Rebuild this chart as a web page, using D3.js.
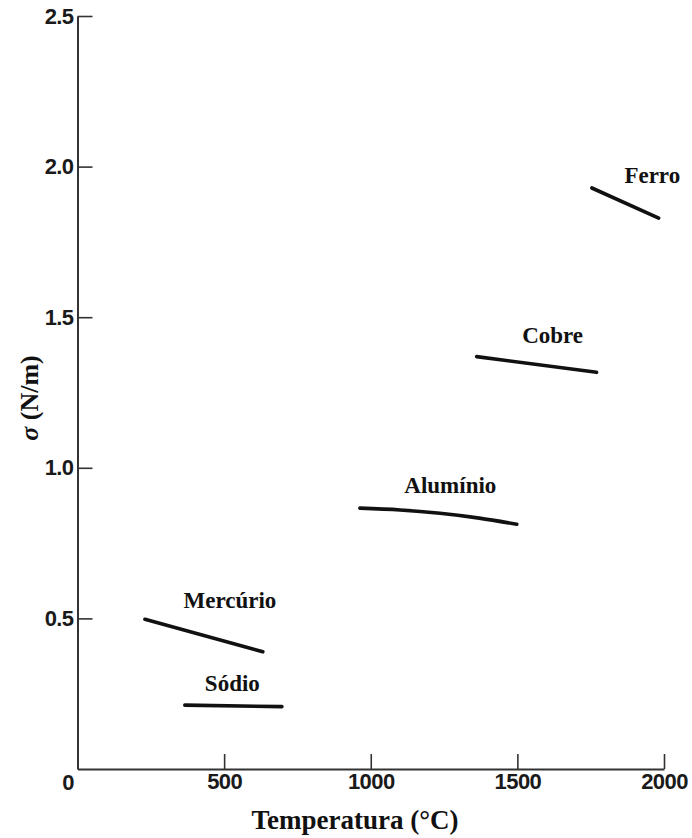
<!DOCTYPE html>
<html>
<head>
<meta charset="utf-8">
<script src="https://cdn.jsdelivr.net/npm/d3@7"></script>
<style>
  html, body { margin: 0; padding: 0; background: #fff; }
  svg { display: block; }
</style>
</head>
<body>
<svg id="chart" width="692" height="838"></svg>
<script>
// Surface tension of liquid metals versus temperature
const metals = ["Mercúrio", "Sódio", "Alumínio", "Cobre", "Ferro"];
const temperatures = [
  [230, 632],
  [366, 697],
  [963, 1100, 1236, 1370, 1498],
  [1361, 1770],
  [1754, 1982]
];
const sigmas = [
  [0.497, 0.389],
  [0.212, 0.207],
  [0.866, 0.860, 0.849, 0.833, 0.8125],
  [1.369, 1.317],
  [1.929, 1.829]
];
const xTicks = [500, 1000, 1500, 2000];
const yTicks = [0.5, 1.0, 1.5, 2.0, 2.5];

const svg = d3.select("#chart");

const x = d3.scaleLinear().domain([0, 2000]).range([77.5, 664]);
const y = d3.scaleLinear().domain([0, 2.5]).range([769, 16]);

const axisColor = "#333";
const tickFont = "'Liberation Sans', Arial, sans-serif";

// x axis, ticks pointing up into the plot
const gx = svg.append("g")
  .attr("transform", `translate(0,${y(0)})`)
  .call(d3.axisBottom(x).tickValues(xTicks).tickFormat(d3.format("d"))
    .tickSize(-15).tickSizeOuter(0).tickPadding(4));

// y axis, ticks pointing right into the plot
const gy = svg.append("g")
  .attr("transform", `translate(${x(0)},0)`)
  .call(d3.axisLeft(y).tickValues(yTicks).tickFormat(d3.format(".1f"))
    .tickSize(-15).tickSizeOuter(0).tickPadding(4));

[gx, gy].forEach(g => {
  g.select(".domain").attr("stroke", axisColor).attr("stroke-width", 2);
  g.selectAll(".tick line").attr("stroke", axisColor).attr("stroke-width", 1.6);
  g.selectAll(".tick text")
    .attr("fill", "#1a1a1a")
    .style("font-family", tickFont)
    .style("font-weight", "bold")
    .style("font-size", "22px")
    .style("letter-spacing", "-0.6px");
});

// origin label
svg.append("text")
  .attr("x", x(0) - 3)
  .attr("y", y(0) + 21)
  .attr("text-anchor", "end")
  .attr("fill", "#1a1a1a")
  .style("font-family", tickFont)
  .style("font-weight", "bold")
  .style("font-size", "22px")
  .text("0");

// one line per metal
const line = d3.line()
  .x(d => x(d[0]))
  .y(d => y(d[1]))
  .curve(d3.curveMonotoneX);

const series = metals.map((name, i) => ({
  name,
  points: temperatures[i].map((t, j) => [t, sigmas[i][j]])
}));

svg.append("g")
  .selectAll("path")
  .data(series)
  .join("path")
  .attr("d", d => line(d.points))
  .attr("fill", "none")
  .attr("stroke", "#111")
  .attr("stroke-width", 3.6)
  .attr("stroke-linecap", "round");

// series labels, offset from the middle of each line
const labelOffsets = {
  "Mercúrio": [26, -28],
  "Sódio": [-1, -15],
  "Alumínio": [12, -23],
  "Cobre": [16, -21],
  "Ferro": [27, -20]
};

svg.append("g")
  .selectAll("text")
  .data(series)
  .join("text")
  .attr("x", d => {
    const p = d.points;
    return (x(p[0][0]) + x(p[p.length - 1][0])) / 2 + labelOffsets[d.name][0];
  })
  .attr("y", d => {
    const p = d.points;
    return (y(p[0][1]) + y(p[p.length - 1][1])) / 2 + labelOffsets[d.name][1];
  })
  .attr("text-anchor", "middle")
  .attr("fill", "#111")
  .style("font-family", "'Liberation Serif', 'Times New Roman', serif")
  .style("font-weight", "bold")
  .style("font-size", "23px")
  .text(d => d.name);

// axis titles
svg.append("text")
  .attr("x", 355)
  .attr("y", 829)
  .attr("text-anchor", "middle")
  .attr("fill", "#111")
  .style("font-family", "'Liberation Serif', 'Times New Roman', serif")
  .style("font-weight", "bold")
  .style("font-size", "27px")
  .text("Temperatura (°C)");

const yTitle = svg.append("text")
  .attr("transform", "translate(38,398) rotate(-90)")
  .attr("text-anchor", "middle")
  .attr("fill", "#111")
  .style("font-family", "'Liberation Serif', 'Times New Roman', serif")
  .style("font-weight", "bold")
  .style("font-size", "26px");
yTitle.append("tspan").style("font-style", "italic").text("σ");
yTitle.append("tspan").text(" (N/m)");
</script>
</body>
</html>
